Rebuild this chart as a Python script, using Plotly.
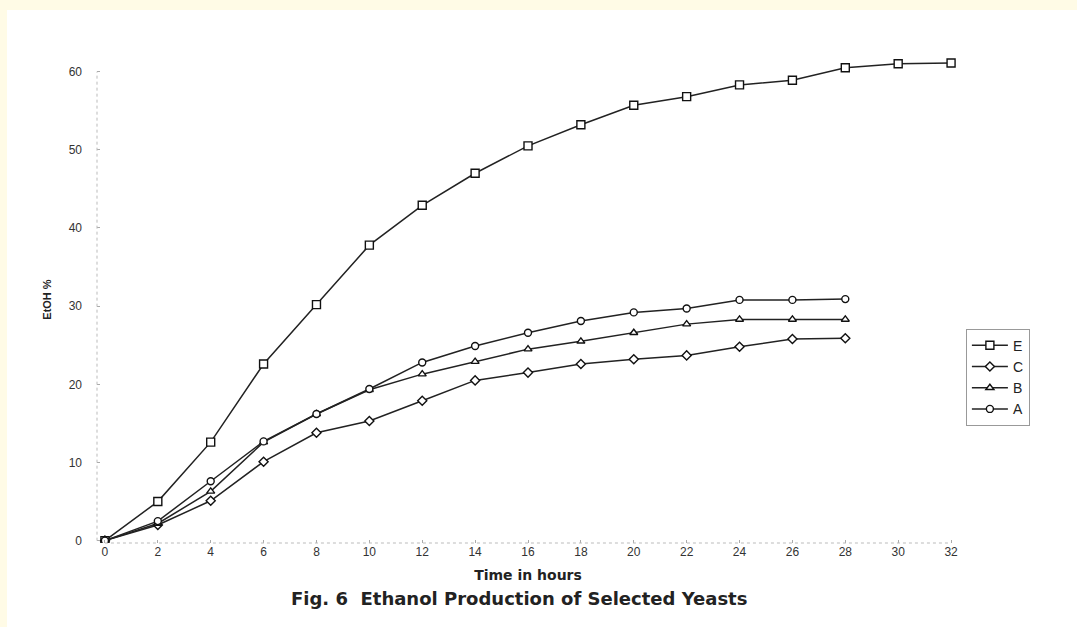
import plotly.graph_objects as go

hours_e = [0, 2, 4, 6, 8, 10, 12, 14, 16, 18, 20, 22, 24, 26, 28, 30, 32]
e_vals = [0, 5.0, 12.6, 22.6, 30.2, 37.8, 42.9, 47.0, 50.5, 53.2, 55.7, 56.8, 58.3, 58.9, 60.5, 61.0, 61.1]

hours = [0, 2, 4, 6, 8, 10, 12, 14, 16, 18, 20, 22, 24, 26, 28]
c_vals = [0, 2.0, 5.1, 10.1, 13.8, 15.3, 17.9, 20.5, 21.5, 22.6, 23.2, 23.7, 24.8, 25.8, 25.9]
b_vals = [0, 2.2, 6.3, 12.6, 16.2, 19.3, 21.3, 22.9, 24.5, 25.5, 26.6, 27.7, 28.3, 28.3, 28.3]
a_vals = [0, 2.5, 7.6, 12.7, 16.2, 19.4, 22.8, 24.9, 26.6, 28.1, 29.2, 29.7, 30.8, 30.8, 30.9]

x_ticks = list(range(0, 33, 2))
y_ticks = [0, 10, 20, 30, 40, 50, 60]

series = [
    ("E", hours_e, e_vals, "square", 8),
    ("C", hours, c_vals, "diamond", 7),
    ("B", hours, b_vals, "triangle-up", 7),
    ("A", hours, a_vals, "circle", 7),
]

fig = go.Figure()
for name, xs, ys, sym, size in series:
    fig.add_trace(go.Scatter(
        x=xs, y=ys, name=name, mode="lines+markers",
        line=dict(color="#222222", width=1.5),
        marker=dict(symbol=sym, size=size, color="white",
                    line=dict(color="#111111", width=1.4)),
    ))

font_family = "Liberation Sans, Arial, sans-serif"
bold_family = "DejaVu Sans, Liberation Sans, Arial, sans-serif"

fig.update_layout(
    width=1077, height=627,
    margin=dict(l=97, r=118, t=56, b=84),
    paper_bgcolor="#fffbe6",
    plot_bgcolor="white",
    font=dict(family=font_family, color="#222222", size=12),
    showlegend=True,
    legend=dict(
        x=1.008, y=0.44, xanchor="left", yanchor="top",
        bordercolor="#999999", borderwidth=1, bgcolor="white",
        font=dict(size=14, color="#222222"),
        itemwidth=36, tracegroupgap=0,
    ),
    xaxis=dict(
        range=[-0.3, 32.3], tickvals=x_ticks, showgrid=False, zeroline=False,
        showline=False, ticks="inside", ticklen=3, tickcolor="#aaaaaa",
        tickfont=dict(size=12, color="#333333"),
        title=dict(text="<b>Time in hours</b>",
                   font=dict(size=14, color="#222222", family=bold_family), standoff=12),
    ),
    yaxis=dict(
        range=[-0.3, 62], tickvals=y_ticks, showgrid=False, zeroline=False,
        showline=False, ticks="inside", ticklen=3, tickcolor="#aaaaaa",
        tickfont=dict(size=12, color="#333333"), ticklabelstandoff=14,
        title=dict(text="<b>EtOH %</b>", font=dict(size=11, color="#222222"), standoff=14),
    ),
    shapes=[
        dict(type="rect", xref="paper", yref="paper", x0=-0.1044, x1=1.2,
             y0=-0.25, y1=1.0945, fillcolor="white", line=dict(width=0), layer="below"),
        dict(type="line", xref="paper", yref="y", x0=0, x1=0, y0=0, y1=60,
             line=dict(color="#bbbbbb", width=1, dash="dot")),
        dict(type="line", xref="x", yref="paper", x0=0, x1=32, y0=0, y1=0,
             line=dict(color="#bbbbbb", width=1, dash="dot")),
    ],
    annotations=[
        dict(text="<b>Fig. 6  Ethanol Production of Selected Yeasts</b>",
             xref="paper", yref="paper", x=0.49, y=-0.113, xanchor="center", yanchor="middle",
             showarrow=False, font=dict(size=18, color="#222222", family=bold_family)),
    ],
)

fig.write_html("out.html")
